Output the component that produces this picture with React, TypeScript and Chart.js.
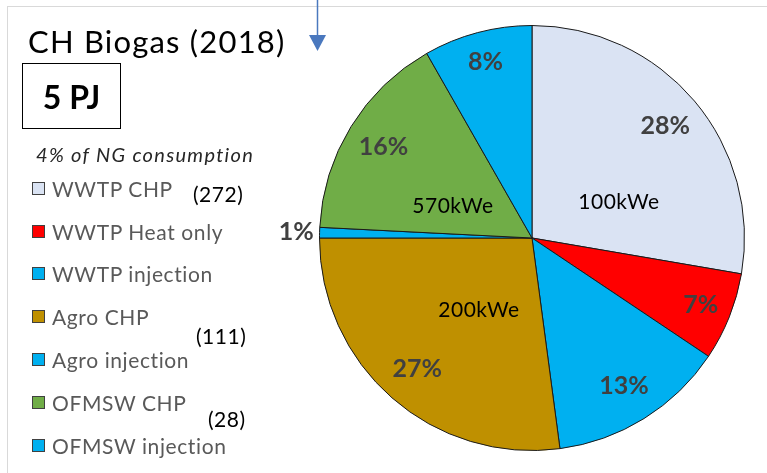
import React, { useEffect, useRef } from "react";
import { Chart, registerables } from "chart.js";

Chart.register(...registerables);

const categories = [
  "WWTP CHP",
  "WWTP Heat only",
  "WWTP injection",
  "Agro CHP",
  "Agro injection",
  "OFMSW CHP",
  "OFMSW injection",
];
const shares = [27.7, 6.7, 13.5, 27.1, 0.8, 15.95, 8.25];
const shareLabels = ["28%", "7%", "13%", "27%", "1%", "16%", "8%"];
const colors = ["#DAE3F3", "#FF0000", "#00B0F0", "#BF9000", "#00B0F0", "#70AD47", "#00B0F0"];
const counts = ["(272)", "(111)", "(28)"];
const sizeNotes = ["100kWe", "200kWe", "570kWe"];

const FONT = "Lato, 'Open Sans', sans-serif";

const labelPlugin = {
  id: "sliceLabels",
  afterDatasetsDraw(chart: any) {
    const ctx = chart.ctx;
    const meta = chart.getDatasetMeta(0);
    ctx.save();
    ctx.font = `bold 25px ${FONT}`;
    ctx.fillStyle = "#404040";
    ctx.textAlign = "center";
    ctx.textBaseline = "middle";
    meta.data.forEach((arc: any, i: number) => {
      const p = arc.getProps(["x", "y", "startAngle", "endAngle", "outerRadius"], true);
      const mid = (p.startAngle + p.endAngle) / 2;
      const v = shares[i];
      const f = v < 3 ? 1.11 : (v < 10 ? 0.855 : 0.82);
      const x = p.x + Math.cos(mid) * p.outerRadius * f;
      const y = p.y + Math.sin(mid) * p.outerRadius * f;
      ctx.fillText(shareLabels[i], x, y);
    });
    ctx.restore();
  },
};

export default function App() {
  const ref = useRef<HTMLCanvasElement>(null);
  useEffect(() => {
    document.body.style.margin = "0";
    const chart = new Chart(ref.current!, {
      type: "pie",
      data: {
        labels: categories,
        datasets: [
          {
            data: shares,
            backgroundColor: colors,
            borderColor: "#1a1a1a",
            borderWidth: 1,
          },
        ],
      },
      options: {
        responsive: false,
        animation: false,
        devicePixelRatio: 1,
        layout: { padding: { left: 319, right: 22, top: 25, bottom: 22 } },
        plugins: { legend: { display: false }, tooltip: { enabled: false } },
      },
      plugins: [labelPlugin],
    });
    return () => chart.destroy();
  }, []);

  const legendTops = [188, 231, 273, 316, 359, 402, 445];
  const note = { position: "absolute" as const, transform: "translate(-50%,-50%)", fontSize: 21, letterSpacing: 0.5, color: "#000", whiteSpace: "nowrap" as const };
  const cnt = { position: "absolute" as const, transform: "translateY(-50%)", fontSize: 21, letterSpacing: 0.5, color: "#000", whiteSpace: "nowrap" as const };
  return (
    <div style={{ position: "relative", width: 767, height: 473, background: "#fff", overflow: "hidden", fontFamily: FONT }}>
      <div style={{ position: "absolute", left: 7, top: 6, right: 0, height: 1, background: "#d9d9d9" }} />
      <div style={{ position: "absolute", left: 7, top: 6, width: 1, bottom: 0, background: "#d9d9d9" }} />
      <canvas ref={ref} width={767} height={473} style={{ position: "absolute", left: 0, top: 0 }} />
      <svg width={767} height={60} style={{ position: "absolute", left: 0, top: 0 }}>
        <line x1={317.5} y1={0} x2={317.5} y2={38} stroke="#4A78BE" strokeWidth={1.5} />
        <polygon points="309,35 326,35 317.5,51" fill="#4A78BE" />
      </svg>
      <div style={{ position: "absolute", left: 28, top: 22, fontSize: 31, letterSpacing: 1.2, color: "#000", whiteSpace: "nowrap" }}>CH Biogas (2018)</div>
      <div style={{ position: "absolute", left: 22, top: 63, width: 97, height: 64, border: "1.5px solid #000", display: "flex", alignItems: "center", justifyContent: "center", fontWeight: "bold", fontSize: 32, color: "#000", whiteSpace: "nowrap" }}>5 PJ</div>
      <div style={{ position: "absolute", left: 36, top: 142, fontSize: 20, fontStyle: "italic", color: "#262626", whiteSpace: "nowrap", letterSpacing: 1.3 }}>4% of NG consumption</div>
      {categories.map((c, i) => (
        <div key={c} style={{ position: "absolute", left: 32, top: legendTops[i] - 13, height: 26, display: "flex", alignItems: "center", whiteSpace: "nowrap" }}>
          <span style={{ display: "inline-block", width: 11, height: 11, background: colors[i], border: "1px solid #404040", marginRight: 7 }} />
          <span style={{ fontSize: 21, letterSpacing: 0.6, color: "#595959" }}>{c}</span>
        </div>
      ))}
      <div style={{ ...cnt, left: 193, top: 193 }}>{counts[0]}</div>
      <div style={{ ...cnt, left: 196, top: 335 }}>{counts[1]}</div>
      <div style={{ ...cnt, left: 208, top: 418 }}>{counts[2]}</div>
      <div style={{ ...note, left: 619, top: 200 }}>{sizeNotes[0]}</div>
      <div style={{ ...note, left: 479, top: 308 }}>{sizeNotes[1]}</div>
      <div style={{ ...note, left: 453, top: 204 }}>{sizeNotes[2]}</div>
    </div>
  );
}
